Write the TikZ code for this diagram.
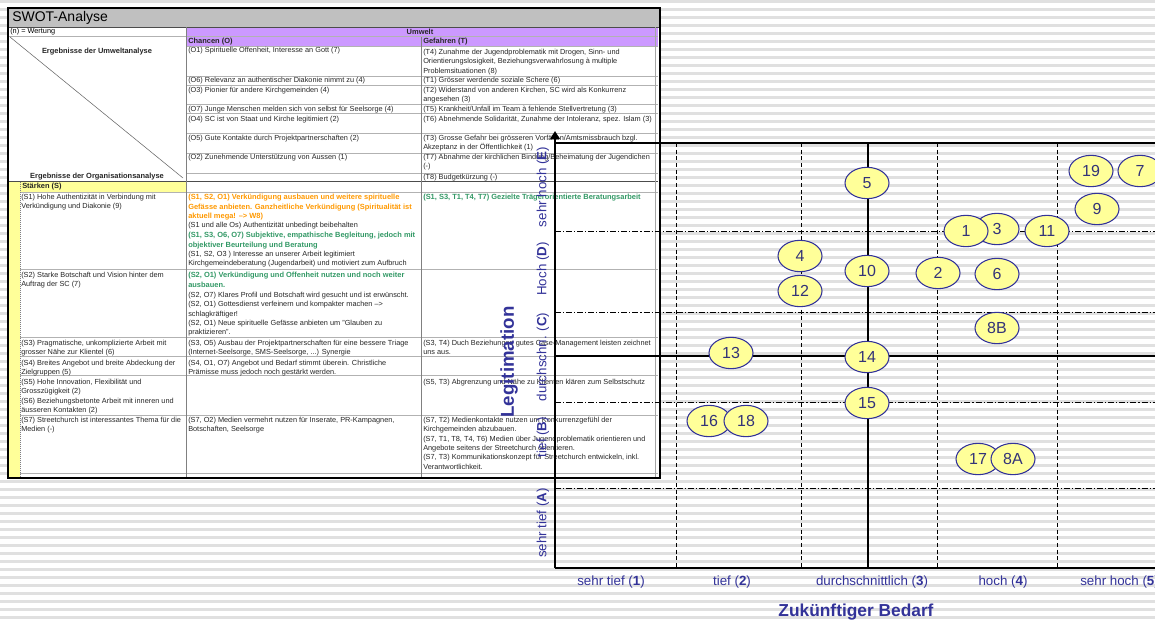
\documentclass[tikz,border=0pt]{standalone}
\usepackage{fontspec}
\setmainfont{Liberation Sans}
\usetikzlibrary{shapes.geometric,arrows.meta}
\definecolor{titlegray}{RGB}{192,192,192}
\definecolor{purp}{RGB}{204,153,255}
\definecolor{yel}{RGB}{255,255,153}
\definecolor{orng}{RGB}{255,153,0}
\definecolor{grn}{RGB}{51,153,102}
\definecolor{navy}{RGB}{51,51,153}
\definecolor{bubtext}{RGB}{51,51,120}
\definecolor{stripe}{RGB}{224,224,224}
\newcommand\tabf{\fontsize{5.5}{7}\selectfont}
\newcommand\tabb{\fontsize{5.6}{7}\selectfont\bfseries}
\newcommand\axf{\fontsize{10}{12}\selectfont}
\newcommand\bubf{\fontsize{12}{14}\selectfont}
\begin{document}
\begin{tikzpicture}[x=0.75pt,y=-0.75pt,
  cell/.style={anchor=north west, inner sep=0pt, align=left, font=\tabf, text=black!85},
  hdr/.style={inner sep=0pt, font=\tabb, text=black!85},
  rowline/.style={draw=black!30, line width=0.4pt},
  colline/.style={draw=black!50, line width=0.5pt},
  axisline/.style={line width=1.9pt},
  gridline/.style={line width=1.5pt},
  dashv/.style={line width=0.7pt, dash pattern=on 3pt off 2pt},
  dashdot/.style={line width=0.7pt, dash pattern=on 4.5pt off 1.5pt on 0.8pt off 1.5pt},
  bub/.style={ellipse, draw=navy, fill=yel, line width=0.8pt, minimum width=33pt, minimum height=23.5pt, inner sep=0pt, font=\bubf, text=bubtext},
  axlab/.style={text=navy, font=\axf, inner sep=0pt}
]
\useasboundingbox (0,0) rectangle (1155,622);
\fill[white] (0,0) rectangle (1155,622);
\foreach \i in {0,...,78} \fill[stripe] (0,\i*8) rectangle (1155,\i*8+3);

% ---------------- table ----------------
\fill[white] (8,8) rectangle (660,478);
\fill[titlegray] (8,8) rectangle (660,27);
\fill[purp] (186,28) rectangle (658,36);
\fill[purp] (186,36.5) rectangle (658,46.5);
\fill[yel] (8,181.5) rectangle (20,477);
\fill[yel] (20,182) rectangle (186,192);

\node[anchor=west, inner sep=0pt, font=\fontsize{10.5}{12}\selectfont] (title) at (12,18) {SWOT-Analyse};
\node[anchor=west, inner sep=0pt, font=\tabf] (wert) at (10,31.5) {(n) = Wertung};
\node[hdr] (umw) at (420,32) {Umwelt};
\node[hdr, anchor=west] (chh) at (188,41.5) {Chancen (O)};
\node[hdr, anchor=west] (gfh) at (423,41.5) {Gefahren (T)};
\node[hdr] (eu) at (97,52) {Ergebnisse der Umweltanalyse};
\node[hdr] (eo) at (97,177) {Ergebnisse der Organisationsanalyse};
\node[hdr, anchor=west] (stk) at (22,187) {Stärken (S)};

% header lines
\draw[black!70, line width=0.5pt] (8,27) -- (660,27);
\draw[rowline] (8,36) -- (658,36);
\draw[rowline] (186,46.5) -- (658,46.5);
\draw[black!60, line width=0.4pt] (10,37) -- (183,178);

% row lines
\foreach \yy in {76,85,104,113,133,153,173} \draw[rowline] (186,\yy) -- (658,\yy);
\draw[black!70, line width=0.6pt] (8,181.5) -- (658,181.5);
\foreach \yy in {192,269,337,356,375,415,473} \draw[rowline] (20,\yy) -- (658,\yy);
% column lines
\draw[colline] (186,27) -- (186,477);
\draw[colline] (421,36.5) -- (421,477);
\draw[colline, densely dotted] (20,181.5) -- (20,477);
\draw[black!35, line width=0.4pt] (655.5,27) -- (655.5,477);

% O column
\node[cell] (o1) at (188,47) {(O1) Spirituelle Offenheit, Interesse an Gott (7)};
\node[cell] (o6) at (188,77) {(O6) Relevanz an authentischer Diakonie nimmt zu (4)};
\node[cell] (o3) at (188,87) {(O3) Pionier für andere Kirchgemeinden (4)};
\node[cell] (o7) at (188,106) {(O7) Junge Menschen melden sich von selbst für Seelsorge (4)};
\node[cell] (o4) at (188,116) {(O4) SC ist von Staat und Kirche legitimiert (2)};
\node[cell] (o5) at (188,135) {(O5) Gute Kontakte durch Projektpartnerschaften (2)};
\node[cell] (o2) at (188,154) {(O2) Zunehmende Unterstützung von Aussen (1)};
% T column
\node[cell] (t4) at (423,49) {(T4) Zunahme der Jugendproblematik mit Drogen, Sinn- und\\Orientierungslosigkeit, Beziehungsverwahrlosung à multiple\\Problemsituationen (8)};
\node[cell] (t1) at (423,77) {(T1) Grösser werdende soziale Schere (6)};
\node[cell] (t2) at (423,87) {(T2) Widerstand von anderen Kirchen, SC wird als Konkurrenz\\angesehen (3)};
\node[cell] (t5) at (423,106) {(T5) Krankheit/Unfall im Team à fehlende Stellvertretung (3)};
\node[cell] (t6) at (423,116) {(T6) Abnehmende Solidarität, Zunahme der Intoleranz, spez. Islam (3)};
\node[cell] (t3) at (423,135) {(T3) Grosse Gefahr bei grösseren Vorfällen/Amtsmissbrauch bzgl.\\Akzeptanz in der Öffentlichkeit (1)};
\node[cell] (t7) at (423,154) {(T7) Abnahme der kirchlichen Bindung/Beheimatung der Jugendichen\\(-)};
\node[cell] (t8) at (423,174) {(T8) Budgetkürzung (-)};
% S column
\node[cell] (s1) at (21,194) {(S1) Hohe Authentizität in Verbindung mit\\Verkündigung und Diakonie (9)};
\node[cell] (s2) at (21,272) {(S2) Starke Botschaft und Vision hinter dem\\Auftrag der SC (7)};
\node[cell] (s3) at (21,340) {(S3) Pragmatische, unkomplizierte Arbeit mit\\grosser Nähe zur Klientel (6)};
\node[cell] (s4) at (21,360) {(S4) Breites Angebot und breite Abdeckung der\\Zielgruppen (5)};
\node[cell] (s5) at (21,379) {(S5) Hohe Innovation, Flexibilität und\\Grosszügigkeit (2)\\(S6) Beziehungsbetonte Arbeit mit inneren und\\äusseren Kontakten (2)};
\node[cell] (s7) at (21,417) {(S7) Streetchurch ist interessantes Thema für die\\Medien (-)};
% SO column
\node[cell, text=orng, font=\tabb] (m1) at (188,194) {(S1, S2, O1) Verkündigung ausbauen und weitere spirituelle\\Gefässe anbieten. Ganzheitliche Verkündigung (Spiritualität ist\\aktuell mega! --> W8)};
\node[cell] (m2) at (188,222) {(S1 und alle Os) Authentizität unbedingt beibehalten};
\node[cell, text=grn, font=\tabb] (m3) at (188,232) {(S1, S3, O6, O7) Subjektive, empathische Begleitung, jedoch mit\\objektiver Beurteilung und Beratung};
\node[cell] (m4) at (188,251) {(S1, S2, O3 ) Interesse an unserer Arbeit legitimiert\\Kirchgemeindeberatung (Jugendarbeit) und motiviert zum Aufbruch};
\node[cell, text=grn, font=\tabb] (m5) at (188,272) {(S2, O1) Verkündigung und Offenheit nutzen und noch weiter\\ausbauen.};
\node[cell] (m6) at (188,292) {(S2, O7) Klares Profil und Botschaft wird gesucht und ist erwünscht.\\(S2, O1) Gottesdienst verfeinern und kompakter machen -->\\schlagkräftiger!\\(S2, O1) Neue spirituelle Gefässe anbieten um "Glauben zu\\praktizieren".};
\node[cell] (m7) at (188,340) {(S3, O5) Ausbau der Projektpartnerschaften für eine bessere Triage\\(Internet-Seelsorge, SMS-Seelsorge, ...) Synergie};
\node[cell] (m8) at (188,360) {(S4, O1, O7) Angebot und Bedarf stimmt überein. Christliche\\Prämisse muss jedoch noch gestärkt werden.};
\node[cell] (m9) at (188,417) {(S7, O2) Medien vermehrt nutzen für Inserate, PR-Kampagnen,\\Botschaften, Seelsorge};
% ST column
\node[cell, text=grn, font=\tabb] (r1) at (423,194) {(S1, S3, T1, T4, T7) Gezielte Trägerorientierte Beratungsarbeit};
\node[cell] (r2) at (423,340) {(S3, T4) Duch Beziehungen gutes Case-Management leisten zeichnet\\uns aus.};
\node[cell] (r3) at (423,379) {(S5, T3) Abgrenzung und Nähe zu Klienten klären zum Selbstschutz};
\node[cell] (r4) at (423,417) {(S7, T2) Medienkontakte nutzen um Konkurrenzgefühl der\\Kirchgemeinden abzubauen.\\(S7, T1, T8, T4, T6) Medien über Jugendproblematik orientieren und\\Angebote seitens der Streetchurch orientieren.\\(S7, T3) Kommunikationskonzept für Streetchurch entwickeln, inkl.\\Verantwortlichkeit.};

% outer border
\draw[black, line width=1.6pt] (8,8) rectangle (660,478);

% ---------------- chart ----------------
\coordinate (orig) at (555,568);
\coordinate (ytip) at (555,131);
\coordinate (xend) at (1160,568);
\coordinate (tl) at (555,143);
\coordinate (tr) at (1160,143);
\coordinate (mt) at (868,143);
\coordinate (mb) at (868,568);
\coordinate (ml) at (555,356);
\coordinate (mr) at (1160,356);

\foreach \xx in {676,801,937,1057} \draw[dashv] (\xx,143) -- (\xx,568);
\foreach \yy in {231,312,402,488} \draw[dashdot] (555,\yy) -- (1160,\yy);
\draw[gridline] (tl) -- (tr);
\draw[gridline] (mt) -- (mb);
\draw[gridline] (ml) -- (mr);
\draw[axisline] (orig) -- (xend);
\draw[axisline, -{Triangle[length=6pt,width=7pt]}] (orig) -- (ytip);

\node[axlab] (x1) at (611,582) {sehr tief (\textbf{1})};
\node[axlab] (x2) at (732,582) {tief (\textbf{2})};
\node[axlab] (x3) at (872,582) {durchschnittlich (\textbf{3})};
\node[axlab] (x4) at (1003,582) {hoch (\textbf{4})};
\node[axlab, anchor=west] (x5) at (1080,582) {sehr hoch (\textbf{5})};

\node[axlab, rotate=90] (y5) at (543,187) {sehr hoch (\textbf{E})};
\node[axlab, rotate=90] (y4) at (543,269) {Hoch (\textbf{D})};
\node[axlab, rotate=90] (y3) at (543,357) {durchschn. (\textbf{C})};
\node[axlab, rotate=90] (y2) at (543,437) {tief (\textbf{B})};
\node[axlab, rotate=90] (y1) at (543,523) {sehr tief (\textbf{A})};

\node[axlab, rotate=90, font=\fontsize{14}{16}\selectfont\bfseries] (leg) at (509,362) {Legitimation};
\node[axlab, font=\fontsize{13}{15}\selectfont\bfseries] (bed) at (856,612) {Zukünftiger Bedarf};

% bubbles
\node[bub] (b5) at (867,183) {5};
\node[bub] (b19) at (1091,171) {19};
\node[bub] (b7) at (1140,171) {7};
\node[bub] (b9) at (1097,209) {9};
\node[bub] (b3) at (997,229) {3};
\node[bub] (b1) at (966,231) {1};
\node[bub] (b11) at (1047,231) {11};
\node[bub] (b4) at (800,256) {4};
\node[bub] (b10) at (867,271) {10};
\node[bub] (b2) at (938,273) {2};
\node[bub] (b6) at (997,274) {6};
\node[bub] (b12) at (800,291) {12};
\node[bub] (b8b) at (997,328) {8B};
\node[bub] (b13) at (731,353) {13};
\node[bub] (b14) at (867,357) {14};
\node[bub] (b15) at (867,403) {15};
\node[bub] (b16) at (709,421) {16};
\node[bub] (b18) at (746,421) {18};
\node[bub] (b17) at (978,459) {17};
\node[bub] (b8a) at (1013,459) {8A};
\end{tikzpicture}
\end{document}
